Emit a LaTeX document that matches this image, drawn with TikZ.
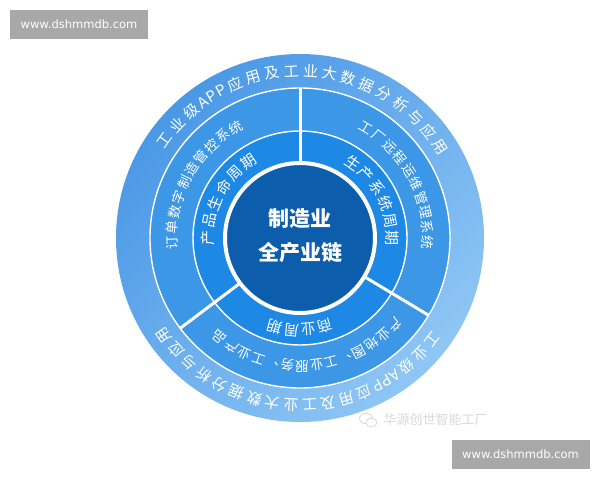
\documentclass[tikz,border=0pt]{standalone}
\usepackage{fontspec}
\newfontfamily\cjk{Noto Sans CJK SC}
\newfontfamily\dvs{DejaVu Sans}
\definecolor{outerA}{HTML}{4A98E6}
\definecolor{outerB}{HTML}{8FC6F4}
\definecolor{ringtwo}{HTML}{3C97E7}
\definecolor{ringthree}{HTML}{1E88E5}
\definecolor{coreblue}{HTML}{0D5DAD}
\definecolor{wmgray}{HTML}{A8A8A8}
\tikzset{
  arcch/.style={text=white, inner sep=0pt, anchor=center},
  outerch/.style={arcch, font=\cjk\fontsize{15}{15}\selectfont},
  twoch/.style={arcch, font=\cjk\fontsize{13.5}{13.5}\selectfont},
  threech/.style={arcch, font=\cjk\fontsize{15}{15}\selectfont},
  wmbox/.style={fill=wmgray, minimum width=138pt, minimum height=29pt, inner sep=0pt,
    text=white, font=\dvs\fontsize{11.5}{12}\selectfont},
  divider/.style={draw=white, line width=3pt},
  ringline/.style={draw=white, line width=1.4pt}
}
\begin{document}
\begin{tikzpicture}[x=1pt,y=1pt]
\useasboundingbox (0,0) rectangle (600,480);
\fill[white] (0,0) rectangle (600,480);
\begin{scope}[shift={(300,242)}]
  % outer ring
  \shade[top color=outerA, bottom color=outerB, shading angle=45] (0,0) circle (184pt);
  % ring two
  \fill[ringtwo] (0,0) circle (150pt);
  \draw[ringline] (0,0) circle (150pt);
  % ring three
  \fill[ringthree] (0,0) circle (107pt);
  \draw[ringline] (0,0) circle (107pt);
  % dividers
  \foreach \a in {90,217,329} \draw[divider] (\a:75pt) -- (\a:150pt);
  % core
  \fill[coreblue] (0,0) circle (75pt);
  \draw[draw=white, line width=4pt] (0,0) circle (75pt);
  \node[text=white, align=center, font=\cjk\bfseries\fontsize{21}{34}\selectfont] (core) at (0,2) {制造业\\全产业链};
  % outer ring texts
  \foreach \a/\c [count=\i] in {144/工,137.3/业,130.7/级,125.5/A,121.8/P,118.2/P,113/应,106.3/用,99.7/及,93/工,86.3/业,79.7/大,73/数,66.3/据,59.7/分,53/析,46.3/与,39.7/应,33/用}
    \node[outerch, rotate=\a-90] (ot\i) at (\a:167pt) {\c};
  \foreach \a/\c [count=\i] in {-37.5/工,-44/业,-50.3/级,-55.3/A,-58.9/P,-62.4/P,-67.4/应,-73.8/用,-80.2/及,-86.7/工,-93.1/业,-99.5/大,-105.9/数,-112.4/据,-118.8/分,-125.2/析,-131.7/与,-138/应,-144.5/用}
    \node[outerch, rotate=\a-90] (ob\i) at (\a:167pt) {\c};
  % ring two texts
  \foreach \a/\c [count=\i] in {182/订,175.1/单,168.2/数,161.3/字,154.4/制,147.6/造,140.7/管,133.8/控,126.9/系,120/统}
    \node[twoch, rotate=\a-90] (tl\i) at (\a:128pt) {\c};
  \foreach \a/\c [count=\i] in {59/工,52.2/厂,45.4/远,38.7/程,31.9/运,25.1/维,18.3/管,11.6/理,4.8/系,-2/统}
    \node[twoch, rotate=\a-90] (tr\i) at (\a:128pt) {\c};
  \foreach \a/\c [count=\i] in {-42.5/产,-49.2/业,-55.8/地,-62.5/图,-69.1/、,-75.8/工,-82.4/业,-89.1/服,-95.7/务,-102.4/、,-109/工,-115.7/业,-122.3/产,-129/品}
    \node[twoch, rotate=\a-90] (tb\i) at (\a:128pt) {\c};
  % ring three texts
  \foreach \a/\c [count=\i] in {180/产,168.8/品,157.6/生,146.4/命,135.2/周,124/期}
    \node[threech, rotate=\a-90] (hl\i) at (\a:92pt) {\c};
  \foreach \a/\c [count=\i] in {55/生,44/产,33/系,22/统,11/周,0/期}
    \node[threech, rotate=\a-90] (hr\i) at (\a:92pt) {\c};
  \foreach \a/\c [count=\i] in {-74/商,-84.7/业,-95.3/周,-106/期}
    \node[threech, rotate=\a-90] (hb\i) at (\a:92pt) {\c};
\end{scope}
% watermark
\begin{scope}[shift={(368,60)}]
  \draw[gray!30, fill=white, line width=0.8pt] (-2,1.5) ellipse (6.5pt and 5.2pt);
  \draw[gray!30, fill=white, line width=0.8pt] (3.5,-2.5) ellipse (5.5pt and 4.5pt);
\end{scope}
\node[text=gray!30, font=\cjk\fontsize{13}{13}\selectfont] (wm) at (435.5,60) {华源创世智能工厂};
% url boxes
\node[wmbox] (urltop) at (79,455.5) {www.dshmmdb.com};
\node[wmbox] (urlbot) at (520.5,25.5) {www.dshmmdb.com};
\end{tikzpicture}
\end{document}
